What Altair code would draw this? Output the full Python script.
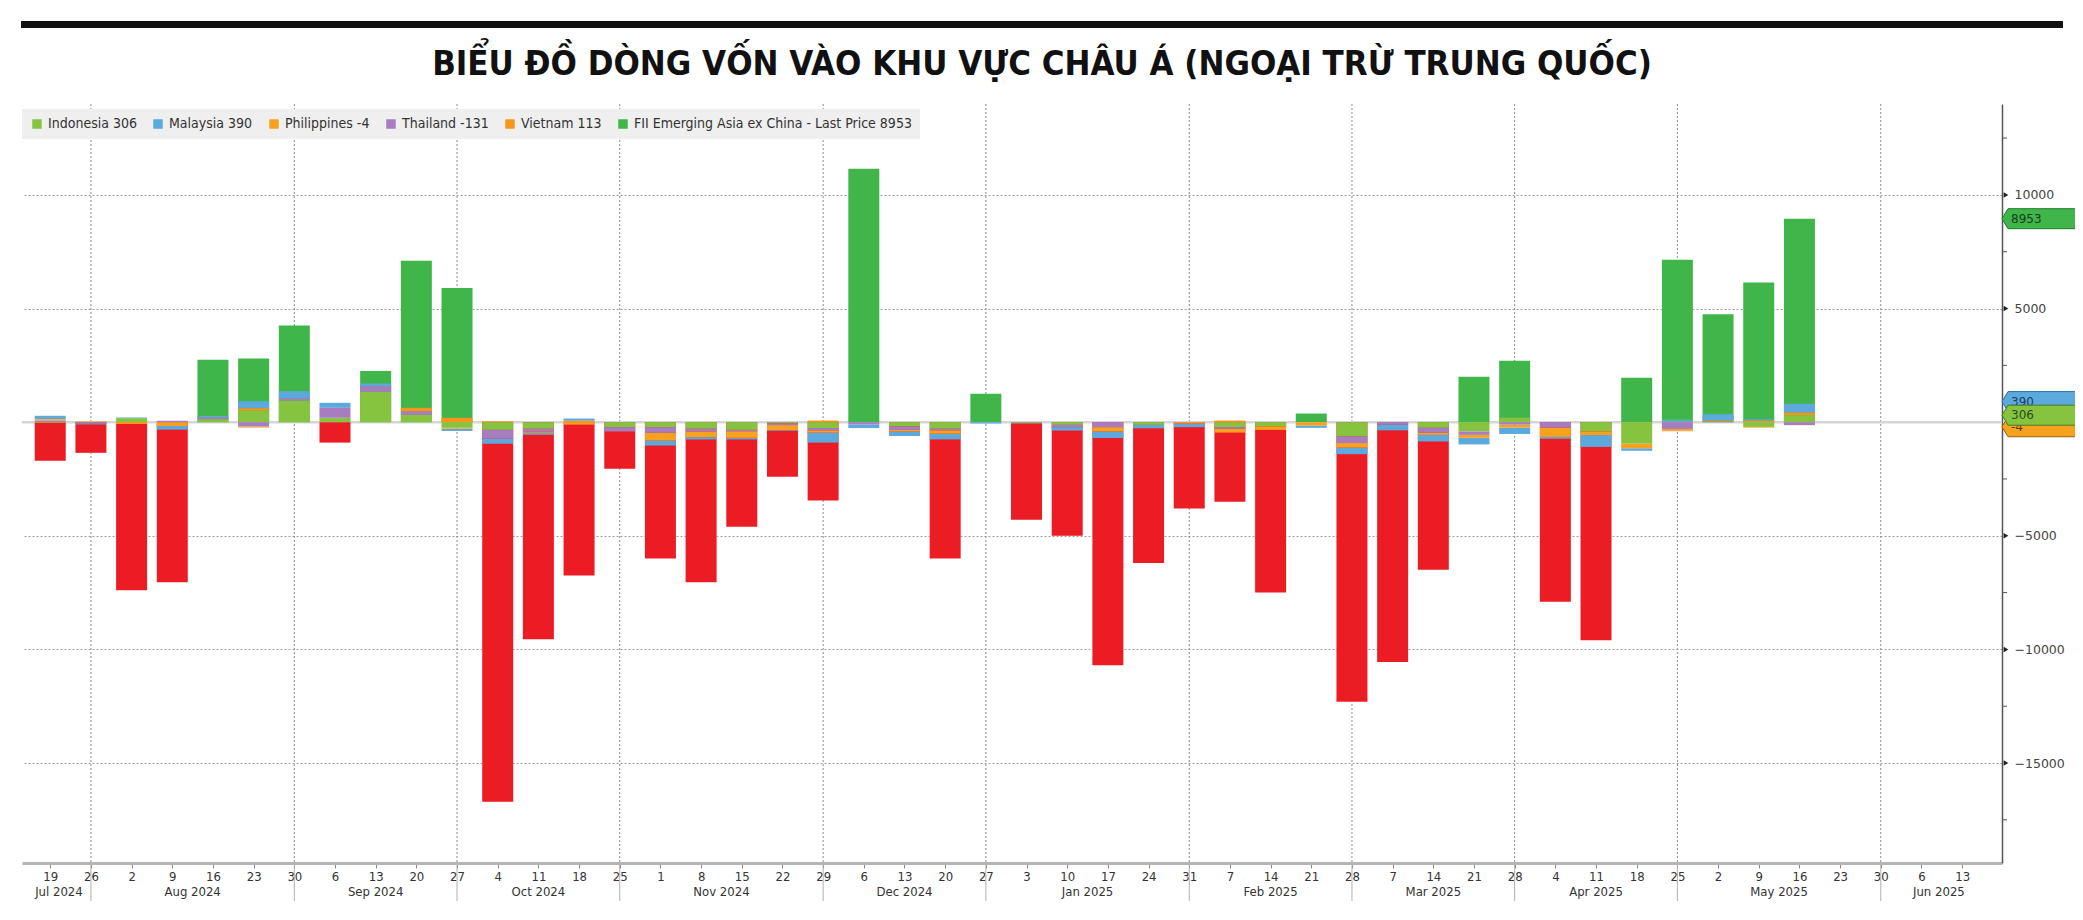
import altair as alt
import pandas as pd

# ---------------- data ----------------
week_dates = [d.strftime("%Y-%m-%d") for d in pd.date_range("2024-07-19", "2025-05-16", freq="7D")]

total = [-1700, -1350, -7400, -7050, 2750, 2800, 4250, -900, 2250, 7100, 5900,
         -16700, -9550, -6750, -2050, -6000, -7050, -4600, -2400, -3450, 11150, -450,
         -6000, 1250, -4300, -5000, -10700, -6200, -3800, -3500, -7500, 380,
         -12300, -10550, -6500, 2000, 2700, -7900, -9600, 1950, 7150, 4750, 6150, 8953]
indonesia = [-30, 0, 175, 0, 130, 510, 950, 190, 1330, 320, -250,
             -340, -290, 0, -220, -220, -290, -340, -50, -260, 0, -190,
             -290, 0, -40, -120, 0, -120, 0, -220, -190, 0,
             -630, 0, -250, -410, 200, 0, -410, -950, 30, 0, -210, 306]
malaysia = [150, -50, 30, -160, 60, 310, 310, 220, 120, 0, -100,
            -220, -80, 100, 0, -220, -100, -70, -30, -440, -160, -200,
            -250, -60, 0, -150, -290, -150, -160, 0, 0, -100,
            -290, -260, -290, -290, -280, -80, -520, -110, 80, 280, 70, 390]
philippines = [70, 0, -80, -170, 0, -50, 0, 0, 0, 0, -40,
               0, -60, -110, 0, -340, -250, -290, -220, -100, 0, -70,
               -150, 0, 0, 0, -190, 0, -60, -170, -150, -150,
               -200, 0, -90, -130, -130, -410, -160, -200, -60, 0, -30, -4]
thailand = [60, -50, 0, 60, 80, -190, 100, 440, 250, 160, 0,
            -390, -120, 0, -190, -250, -120, -60, -80, -100, -100, -150,
            -70, 0, -30, -100, -220, 0, 0, -70, 0, 0,
            -290, -100, -220, -150, -110, -240, 0, 0, -300, 30, 0, -131]
vietnam = [0, 30, 0, 0, 0, 100, 0, 0, 0, 150, 190,
           40, 0, 60, 0, 0, 0, 0, 0, 70, 0, 0,
           0, 0, 0, 0, 0, 0, 0, 70, 0, 0,
           0, 0, 0, 0, 0, 0, 0, 0, -40, 40, 60, 113]

tick_dates = [d.strftime("%Y-%m-%d") for d in pd.date_range("2024-07-19", "2025-06-13", freq="7D")]
month_bounds = ["2024-07-15", "2024-07-26", "2024-08-30", "2024-09-27", "2024-10-25",
                "2024-11-29", "2024-12-27", "2025-01-31", "2025-02-28", "2025-03-28",
                "2025-04-25", "2025-05-30", "2025-06-19"]
month_names = ["Jul 2024", "Aug 2024", "Sep 2024", "Oct 2024", "Nov 2024", "Dec 2024",
               "Jan 2025", "Feb 2025", "Mar 2025", "Apr 2025", "May 2025", "Jun 2025"]
y_major = [10000, 5000, -5000, -10000, -15000]
y_minor = [12500, 7500, 2500, -2500, -7500, -12500, -17500]

title_text = "BIỂU ĐỒ DÒNG VỐN VÀO KHU VỰC CHÂU Á (NGOẠI TRỪ TRUNG QUỐC)"

names = ["Indonesia", "Malaysia", "Philippines", "Thailand", "Vietnam"]
series_vals = [indonesia, malaysia, philippines, thailand, vietnam]
colors = ["#86C440", "#5CA9DE", "#F7A21E", "#A77DBF", "#F7941E"]
stack_rank = [1, 5, 3, 2, 4]
GREEN = "#3FB54A"
RED = "#EC1C24"

labels = [f"{n} {v[-1]}" for n, v in zip(names, series_vals)]
total_label = f"FII Emerging Asia ex China - Last Price {total[-1]}"

# ---------------- tables ----------------
def ms(s):
    return int(pd.Timestamp(s).value // 10**6)

rows = []
for lab, vals, rk in zip(labels, series_vals, stack_rank):
    for d, v in zip(week_dates, vals):
        rows.append({"date": ms(d), "series": lab, "value": v, "ord": rk})
comp_df = pd.DataFrame(rows)
tot_df = pd.DataFrame({"date": [ms(d) for d in week_dates], "value": total, "series": total_label})

sep_df = pd.DataFrame({"date": [ms(d) for d in month_bounds[1:-1]]})
mid_df = pd.DataFrame({
    "date": [(ms(a) + ms(b)) // 2 for a, b in zip(month_bounds[:-1], month_bounds[1:])],
    "label": month_names,
})

W, H = 1980, 759
FONT = "Liberation Sans Narrow, DejaVu Sans Condensed, Arial Narrow, sans-serif"

xscale = alt.Scale(type="utc", domain=[ms(month_bounds[0]), ms(month_bounds[-1])])
yscale = alt.Scale(domain=[-19400, 14000], nice=False, zero=False)
cscale = alt.Scale(domain=labels + [total_label], range=colors + [GREEN])
legend = alt.Legend(title=None, orient="none", legendX=0, legendY=5, direction="horizontal",
                    fillColor="#efefef", padding=8, symbolType="square", symbolSize=90,
                    symbolStrokeWidth=0, labelFont=FONT, labelFontSize=14, labelColor="#333",
                    columnPadding=14, labelOffset=4, labelLimit=600)

X = alt.X("date:T", scale=xscale,
          axis=alt.Axis(values=[ms(d) for d in tick_dates], labelExpr="utcFormat(datum.value, '%-d')",
                        title=None, grid=False, tickSize=5, tickColor="#888", domainColor="#b4b4b4",
                        domainWidth=3, labelFont=FONT, labelFontSize=13, labelColor="#333",
                        labelPadding=2, labelOverlap=False, labelFlush=False))

vgrid = alt.Chart(sep_df).mark_rule(color="#8a8a8a", strokeDash=[2, 2], strokeWidth=1).encode(
    x=alt.X("date:T", scale=xscale), y=alt.value(0), y2=alt.value(H))

zero = alt.Chart(pd.DataFrame({"v": [0]})).mark_rule(color="#d6d6d6", strokeWidth=2.5).encode(
    y=alt.Y("v:Q", scale=yscale))

tot_bars = alt.Chart(tot_df).mark_bar(size=31).encode(
    x=X,
    y=alt.Y("value:Q", scale=yscale,
            axis=alt.Axis(orient="right", values=y_major, format="d", title=None, grid=True,
                          gridDash=[2, 2], gridColor="#a0a0a0", ticks=False, labelPadding=12,
                          domainColor="#555", domainWidth=1.5, labelFont="DejaVu Sans",
                          labelFontSize=12.5, labelColor="#444")),
    color=alt.when(alt.datum.value < 0).then(alt.value(RED)).otherwise(
        alt.Color("series:N", scale=cscale, legend=legend)),
)

comp_bars = alt.Chart(comp_df).mark_bar(size=31).encode(
    x=alt.X("date:T", scale=xscale),
    y=alt.Y("value:Q", scale=yscale, stack="zero"),
    color=alt.Color("series:N", scale=cscale, legend=legend),
    order=alt.Order("ord:Q"),
)

sep_low = alt.Chart(sep_df).mark_rule(color="#b0b0b0", strokeWidth=1).encode(
    x=alt.X("date:T", scale=xscale), y=alt.value(H + 2), y2=alt.value(H + 38))

month_txt = alt.Chart(mid_df).mark_text(font=FONT, fontSize=13, color="#333", baseline="middle").encode(
    x=alt.X("date:T", scale=xscale), y=alt.value(H + 29), text="label:N")

tri = alt.Chart(pd.DataFrame({"v": y_major})).mark_point(
    shape="triangle-right", filled=True, size=30, color="#222", opacity=1).encode(
    x=alt.value(W + 4), y=alt.Y("v:Q", scale=yscale))

minor = alt.Chart(pd.DataFrame({"v": y_minor})).mark_rule(color="#555", strokeWidth=1).encode(
    x=alt.value(W), x2=alt.value(W + 5), y=alt.Y("v:Q", scale=yscale))

TAG = "M-1,0L-0.85,-0.25L1,-0.25L1,0.25L-0.85,0.25Z"
tags = []
tag_specs = [
    (philippines[-1], str(philippines[-1]), "#F7A21E", "#9a6010", "#5a3a00", 4.5),
    (malaysia[-1], str(malaysia[-1]), "#5CA9DE", "#2f6f9f", "#1f3f66", -11.7),
    (indonesia[-1], str(indonesia[-1]), "#86C440", "#4a7a20", "#274d1a", 0),
    (total[-1], str(total[-1]), GREEN, "#1f7a2a", "#15401a", 0),
]
for val, txt, fill, stroke, tcol, off in tag_specs:
    d = pd.DataFrame({"v": [val], "t": [txt]})
    tags.append(alt.Chart(d).mark_point(shape=TAG, size=6400, filled=True, fill=fill, stroke=stroke,
                                        strokeWidth=1, opacity=1, yOffset=off).encode(
        x=alt.value(W + 40), y=alt.Y("v:Q", scale=yscale)))
    tags.append(alt.Chart(d).mark_text(font="DejaVu Sans", fontSize=12, color=tcol, align="left",
                                       baseline="middle", yOffset=off).encode(
        x=alt.value(W + 9), y=alt.Y("v:Q", scale=yscale), text="t:N"))

title_mark = alt.Chart(pd.DataFrame({"t": [title_text]})).mark_text(
    font=FONT, fontSize=34.5, fontWeight="bold", color="#111", align="center", baseline="middle").encode(
    x=alt.value(1020), y=alt.value(-39), text="t:N")

topbar = alt.Chart(pd.DataFrame({"a": [0]})).mark_rect(color="#111").encode(
    x=alt.value(-1), x2=alt.value(2041), y=alt.value(-83), y2=alt.value(-76))

chart = alt.layer(vgrid, zero, tot_bars, comp_bars, sep_low, month_txt, minor, tri, *tags,
                  title_mark, topbar).properties(
    width=W, height=H,
    padding={"left": 14, "top": 96, "right": 73, "bottom": 48},
    autosize=alt.AutoSizeParams(type="none"),
).configure_view(stroke=None)

chart.save("out.html", embed_options={"renderer": "svg", "actions": False})
